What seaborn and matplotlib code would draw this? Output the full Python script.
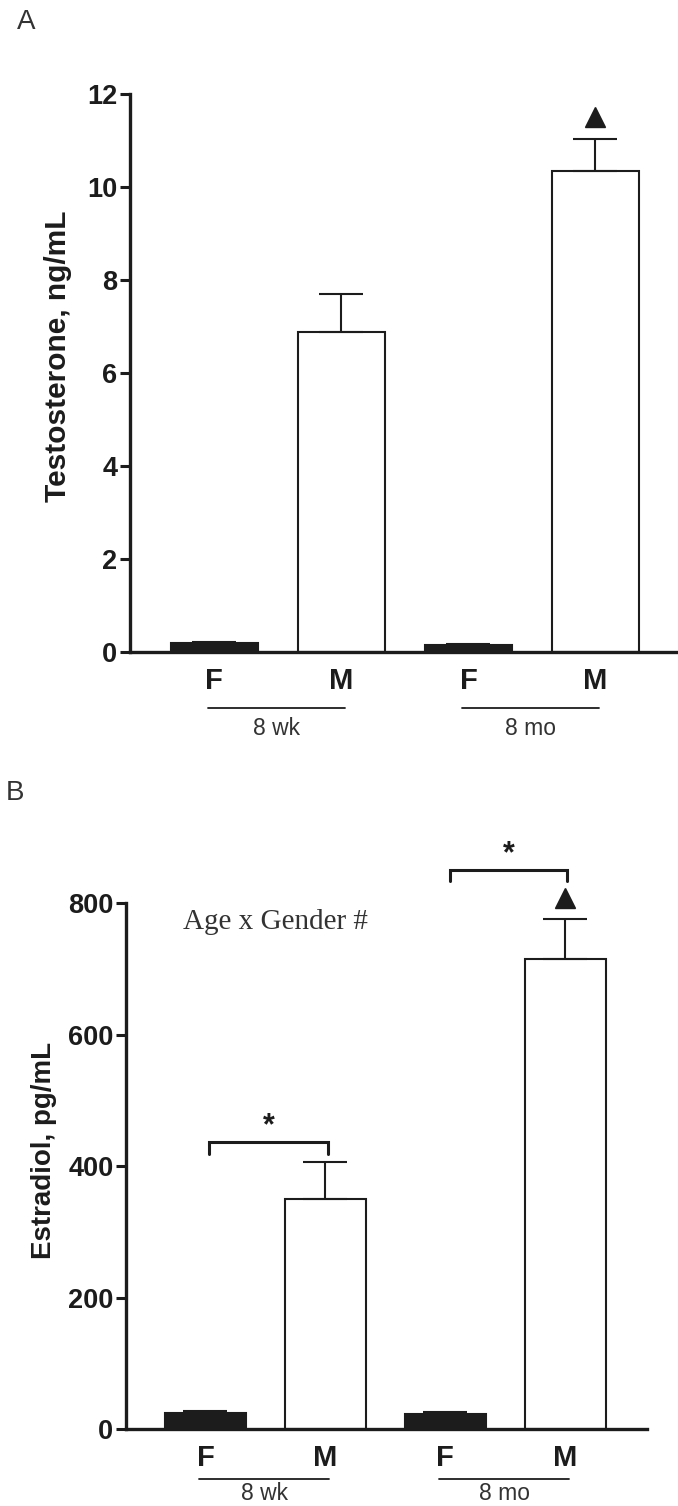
import numpy as np
import pandas as pd
import matplotlib
matplotlib.use("Agg")
import matplotlib.pyplot as plt
import matplotlib.transforms as mtransforms
import seaborn as sns

# Data
groups = ["F 8wk", "M 8wk", "F 8mo", "M 8mo"]
sex_labels = ["F", "M", "F", "M"]
age_labels = ["8 wk", "8 mo"]
testosterone = [0.19, 6.88, 0.15, 10.35]
testosterone_sem = [0.03, 0.82, 0.02, 0.68]
estradiol = [24, 350, 23, 715]
estradiol_sem = [4, 56, 3, 61]

INK = "#1c1c1c"
bar_colors = {"F 8wk": INK, "M 8wk": "white", "F 8mo": INK, "M 8mo": "white"}


def draw_panel(ax, values, sem, ylim, yticks, ylabel, ylabel_size, line_y, text_y, label_x):
    df = pd.DataFrame({"group": groups, "value": values})
    sns.barplot(data=df, x="group", y="value", hue="group", order=groups,
                palette=bar_colors, saturation=1, width=0.68, edgecolor=INK,
                linewidth=1.5, errorbar=None, legend=False, ax=ax)
    x = np.arange(len(groups))
    ax.errorbar(x, values, yerr=[np.zeros(len(sem)), sem], fmt="none",
                ecolor=INK, elinewidth=1.5, capsize=16, capthick=1.5, zorder=5)

    ax.set_ylim(*ylim)
    ax.set_yticks(yticks)
    ax.set_yticklabels([str(t) for t in yticks], fontsize=19.5, fontweight="bold", color=INK)
    ax.set_xticks(x)
    ax.set_xticklabels(sex_labels, fontsize=21, fontweight="bold", color=INK)
    ax.tick_params(axis="x", length=0, pad=11)
    ax.tick_params(axis="y", length=7, width=2.2, pad=2, color=INK)
    ax.set_xlabel("")
    ax.set_ylabel(ylabel, fontsize=ylabel_size, fontweight="bold", color=INK)
    ax.yaxis.set_label_coords(label_x, 0.53)

    sns.despine(ax=ax)
    for side in ["left", "bottom"]:
        ax.spines[side].set_linewidth(2.4)
        ax.spines[side].set_color(INK)

    # age group underlines and labels
    trans = mtransforms.blended_transform_factory(ax.transData, ax.transAxes)
    for i, age in enumerate(age_labels):
        x0, x1 = 2 * i - 0.05, 2 * i + 1.03
        ax.plot([x0, x1], [line_y, line_y], color=INK, lw=1.3,
                transform=trans, clip_on=False)
        ax.text((x0 + x1) / 2, text_y, age, transform=trans, ha="center",
                va="center", fontsize=16.5, color="#333333")


sns.set_theme(style="ticks")
plt.rcParams["font.family"] = ["Liberation Sans", "DejaVu Sans"]

fig = plt.figure(figsize=(6.78, 15.06), dpi=100)
ax_a = fig.add_axes([0.1917, 0.5671, 0.8083, 0.3705])
ax_b = fig.add_axes([0.1858, 0.0511, 0.7684, 0.3493])

# Panel A: testosterone
draw_panel(ax_a, testosterone, testosterone_sem, (0, 12), [0, 2, 4, 6, 8, 10, 12],
           "Testosterone, ng/mL", 21.5, -0.100, -0.138, -0.106)
ax_a.set_xlim(-0.665, 3.65)
ax_a.plot([3], [11.5], marker="^", markersize=15, color=INK, clip_on=False)

# Panel B: estradiol
draw_panel(ax_b, estradiol, estradiol_sem, (0, 800), [0, 200, 400, 600, 800],
           "Estradiol, pg/mL", 20, -0.095, -0.123, -0.132)
ax_b.set_xlim(-0.6625, 3.68)
ax_b.plot([3], [808], marker="^", markersize=15, color=INK, clip_on=False)

# significance brackets in panel B
brackets = [(0.03, 1.02, 437, 418), (2.04, 3.01, 850, 833)]
for x0, x1, top, leg in brackets:
    ax_b.plot([x0, x0, x1, x1], [leg, top, top, leg], color=INK, lw=2.2,
              clip_on=False, solid_joinstyle="miter")
    ax_b.text((x0 + x1) / 2, top + 1, "*", ha="center", va="bottom",
              fontsize=22, fontweight="bold", color=INK, clip_on=False)

ax_b.text(0.286, 0.963, "Age x Gender #", transform=ax_b.transAxes, ha="center",
          va="center", fontsize=21, color="#333333",
          family=["Liberation Serif", "DejaVu Serif"])

fig.text(17 / 678, 1 - 22 / 1506, "A", fontsize=20, color="#333333", va="center")
fig.text(6 / 678, 1 - 793 / 1506, "B", fontsize=20, color="#333333", va="center")

fig.savefig("out.png", dpi=100, facecolor="white")
